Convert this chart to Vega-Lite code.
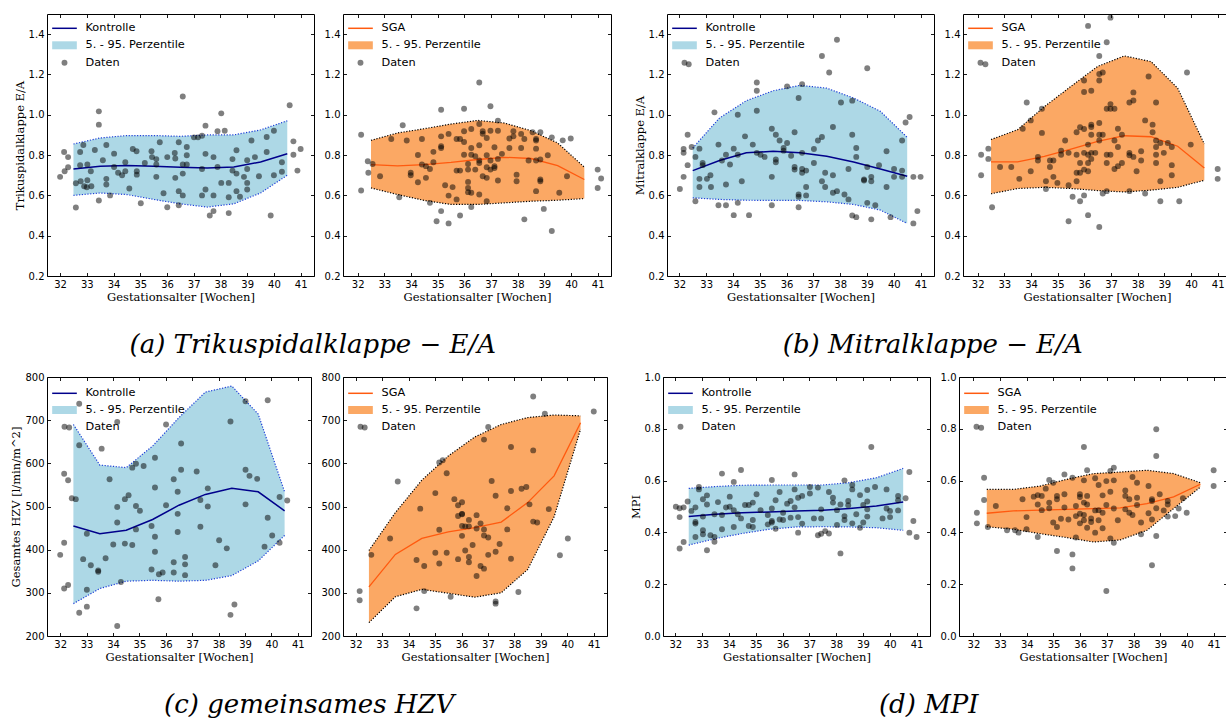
{
"$schema": "https://vega.github.io/schema/vega-lite/v6.json",
"padding": {"left": 10, "top": 13, "right": 0, "bottom": 0},
"background": "white",
"datasets": {
"b1": [{"x":32.5,"lo":0.600,"mid":0.731,"hi":0.855},{"x":33.5,"lo":0.612,"mid":0.745,"hi":0.885},{"x":34.5,"lo":0.604,"mid":0.748,"hi":0.897},{"x":35.5,"lo":0.580,"mid":0.745,"hi":0.897},{"x":36.5,"lo":0.558,"mid":0.740,"hi":0.893},{"x":37.5,"lo":0.542,"mid":0.736,"hi":0.900},{"x":38.5,"lo":0.558,"mid":0.741,"hi":0.900},{"x":39.5,"lo":0.612,"mid":0.766,"hi":0.925},{"x":40.5,"lo":0.700,"mid":0.807,"hi":0.970}],
"b2": [{"x":32.5,"lo":0.637,"mid":0.753,"hi":0.873},{"x":33.5,"lo":0.604,"mid":0.746,"hi":0.910},{"x":34.5,"lo":0.575,"mid":0.753,"hi":0.931},{"x":35.5,"lo":0.555,"mid":0.764,"hi":0.954},{"x":36.5,"lo":0.555,"mid":0.778,"hi":0.972},{"x":37.5,"lo":0.563,"mid":0.789,"hi":0.959},{"x":38.5,"lo":0.571,"mid":0.783,"hi":0.921},{"x":39.5,"lo":0.576,"mid":0.748,"hi":0.860},{"x":40.5,"lo":0.584,"mid":0.679,"hi":0.740}],
"b3": [{"x":32.5,"lo":0.588,"mid":0.723,"hi":0.835},{"x":33.5,"lo":0.580,"mid":0.773,"hi":0.984},{"x":34.5,"lo":0.576,"mid":0.811,"hi":1.070},{"x":35.5,"lo":0.575,"mid":0.819,"hi":1.119},{"x":36.5,"lo":0.575,"mid":0.811,"hi":1.146},{"x":37.5,"lo":0.568,"mid":0.794,"hi":1.132},{"x":38.5,"lo":0.555,"mid":0.766,"hi":1.083},{"x":39.5,"lo":0.527,"mid":0.731,"hi":1.017},{"x":40.5,"lo":0.461,"mid":0.695,"hi":0.888}],
"b4": [{"x":32.5,"lo":0.608,"mid":0.766,"hi":0.877},{"x":33.5,"lo":0.634,"mid":0.766,"hi":0.926},{"x":34.5,"lo":0.640,"mid":0.794,"hi":1.040},{"x":35.5,"lo":0.634,"mid":0.830,"hi":1.141},{"x":36.5,"lo":0.624,"mid":0.868,"hi":1.240},{"x":37.5,"lo":0.617,"mid":0.896,"hi":1.292},{"x":38.5,"lo":0.626,"mid":0.891,"hi":1.264},{"x":39.5,"lo":0.640,"mid":0.844,"hi":1.132},{"x":40.5,"lo":0.675,"mid":0.736,"hi":0.855}],
"b5": [{"x":32.5,"lo":275,"mid":455,"hi":690},{"x":33.5,"lo":310,"mid":437,"hi":596},{"x":34.5,"lo":327,"mid":445,"hi":590},{"x":35.5,"lo":329,"mid":470,"hi":640},{"x":36.5,"lo":327,"mid":503,"hi":706},{"x":37.5,"lo":329,"mid":528,"hi":765},{"x":38.5,"lo":340,"mid":542,"hi":779},{"x":39.5,"lo":374,"mid":534,"hi":714},{"x":40.5,"lo":433,"mid":490,"hi":534}],
"b6": [{"x":32.5,"lo":231,"mid":314,"hi":398},{"x":33.5,"lo":291,"mid":389,"hi":486},{"x":34.5,"lo":308,"mid":426,"hi":561},{"x":35.5,"lo":299,"mid":441,"hi":617},{"x":36.5,"lo":290,"mid":451,"hi":661},{"x":37.5,"lo":300,"mid":464,"hi":690},{"x":38.5,"lo":354,"mid":509,"hi":706},{"x":39.5,"lo":476,"mid":571,"hi":712},{"x":40.5,"lo":679,"mid":694,"hi":710}],
"b7": [{"x":32.5,"lo":0.351,"mid":0.461,"hi":0.570},{"x":33.5,"lo":0.376,"mid":0.470,"hi":0.577},{"x":34.5,"lo":0.396,"mid":0.476,"hi":0.582},{"x":35.5,"lo":0.412,"mid":0.479,"hi":0.583},{"x":36.5,"lo":0.421,"mid":0.483,"hi":0.583},{"x":37.5,"lo":0.422,"mid":0.486,"hi":0.583},{"x":38.5,"lo":0.421,"mid":0.492,"hi":0.592},{"x":39.5,"lo":0.418,"mid":0.502,"hi":0.611},{"x":40.5,"lo":0.408,"mid":0.517,"hi":0.647}],
"b8": [{"x":32.5,"lo":0.422,"mid":0.474,"hi":0.566},{"x":33.5,"lo":0.412,"mid":0.483,"hi":0.566},{"x":34.5,"lo":0.395,"mid":0.486,"hi":0.579},{"x":35.5,"lo":0.380,"mid":0.489,"hi":0.605},{"x":36.5,"lo":0.363,"mid":0.492,"hi":0.627},{"x":37.5,"lo":0.371,"mid":0.495,"hi":0.633},{"x":38.5,"lo":0.408,"mid":0.511,"hi":0.640},{"x":39.5,"lo":0.492,"mid":0.537,"hi":0.627},{"x":40.5,"lo":0.575,"mid":0.586,"hi":0.592}],
"p1": [{"x":32.0,"y":0.692},{"x":32.15,"y":0.815},{"x":32.17,"y":0.72},{"x":32.3,"y":0.79},{"x":32.3,"y":0.74},{"x":32.59,"y":0.54},{"x":32.59,"y":0.66},{"x":32.75,"y":0.815},{"x":32.75,"y":0.75},{"x":32.77,"y":0.67},{"x":32.87,"y":0.85},{"x":32.9,"y":0.645},{"x":33.02,"y":0.753},{"x":33.02,"y":0.675},{"x":33.0,"y":0.64},{"x":33.15,"y":0.72},{"x":33.17,"y":0.645},{"x":33.3,"y":0.825},{"x":33.45,"y":1.017},{"x":33.45,"y":0.951},{"x":33.45,"y":0.575},{"x":33.6,"y":0.774},{"x":33.73,"y":0.85},{"x":33.73,"y":0.682},{"x":33.73,"y":0.654},{"x":33.87,"y":0.6},{"x":34.02,"y":0.807},{"x":34.02,"y":0.741},{"x":34.17,"y":0.712},{"x":34.32,"y":0.7},{"x":34.44,"y":0.764},{"x":34.44,"y":0.72},{"x":34.59,"y":0.634},{"x":34.72,"y":0.83},{"x":34.86,"y":0.819},{"x":34.87,"y":0.72},{"x":34.87,"y":0.703},{"x":35.02,"y":0.561},{"x":35.17,"y":0.761},{"x":35.42,"y":0.819},{"x":35.44,"y":0.79},{"x":35.6,"y":0.78},{"x":35.6,"y":0.753},{"x":35.6,"y":0.692},{"x":35.73,"y":0.864},{"x":35.87,"y":0.611},{"x":36.01,"y":0.79},{"x":36.01,"y":0.541},{"x":36.29,"y":0.81},{"x":36.31,"y":0.783},{"x":36.31,"y":0.687},{"x":36.44,"y":0.864},{"x":36.44,"y":0.621},{"x":36.44,"y":0.551},{"x":36.59,"y":1.091},{"x":36.59,"y":0.753},{"x":36.59,"y":0.708},{"x":36.59,"y":0.6},{"x":36.74,"y":0.84},{"x":36.74,"y":0.799},{"x":36.74,"y":0.753},{"x":37.01,"y":0.888},{"x":37.16,"y":0.888},{"x":37.31,"y":0.896},{"x":37.31,"y":0.731},{"x":37.31,"y":0.6},{"x":37.44,"y":0.946},{"x":37.44,"y":0.806},{"x":37.44,"y":0.629},{"x":37.6,"y":0.5},{"x":37.74,"y":0.79},{"x":37.74,"y":0.6},{"x":37.74,"y":0.522},{"x":37.89,"y":0.918},{"x":37.89,"y":0.741},{"x":38.03,"y":1.007},{"x":38.03,"y":0.662},{"x":38.16,"y":0.921},{"x":38.31,"y":0.662},{"x":38.31,"y":0.591},{"x":38.31,"y":0.512},{"x":38.45,"y":0.78},{"x":38.45,"y":0.723},{"x":38.6,"y":0.824},{"x":38.6,"y":0.708},{"x":38.6,"y":0.621},{"x":38.73,"y":0.593},{"x":38.88,"y":0.692},{"x":39.0,"y":0.774},{"x":39.0,"y":0.731},{"x":39.0,"y":0.662},{"x":39.0,"y":0.629},{"x":39.16,"y":0.872},{"x":39.29,"y":0.79},{"x":39.44,"y":0.695},{"x":39.73,"y":0.89},{"x":39.73,"y":0.815},{"x":39.88,"y":0.5},{"x":40.0,"y":0.921},{"x":40.0,"y":0.7},{"x":40.3,"y":0.764},{"x":40.3,"y":0.717},{"x":40.59,"y":1.047},{"x":40.73,"y":0.868},{"x":40.73,"y":0.802},{"x":40.88,"y":0.723},{"x":41.0,"y":0.83}],
"p2": [{"x":32.13,"y":0.901},{"x":32.13,"y":0.624},{"x":32.38,"y":0.769},{"x":32.4,"y":0.712},{"x":32.56,"y":0.756},{"x":32.84,"y":0.695},{"x":33.26,"y":0.88},{"x":33.56,"y":0.591},{"x":33.69,"y":0.948},{"x":33.84,"y":0.872},{"x":33.99,"y":0.712},{"x":33.99,"y":0.7},{"x":34.26,"y":0.8},{"x":34.26,"y":0.665},{"x":34.41,"y":0.88},{"x":34.41,"y":0.753},{"x":34.56,"y":0.745},{"x":34.56,"y":0.687},{"x":34.71,"y":0.563},{"x":34.71,"y":0.731},{"x":34.84,"y":0.816},{"x":34.84,"y":0.764},{"x":35.13,"y":1.025},{"x":35.13,"y":0.893},{"x":35.13,"y":0.844},{"x":35.13,"y":0.835},{"x":35.13,"y":0.522},{"x":35.28,"y":0.65},{"x":35.41,"y":0.905},{"x":35.41,"y":0.599},{"x":34.96,"y":0.472},{"x":35.41,"y":0.461},{"x":35.56,"y":0.641},{"x":35.71,"y":0.88},{"x":35.71,"y":0.723},{"x":35.71,"y":0.58},{"x":35.84,"y":0.5},{"x":35.84,"y":0.723},{"x":35.84,"y":0.88},{"x":35.99,"y":1.03},{"x":35.99,"y":0.918},{"x":35.99,"y":0.865},{"x":35.99,"y":0.802},{"x":36.14,"y":0.756},{"x":36.14,"y":0.728},{"x":36.14,"y":0.667},{"x":36.14,"y":0.637},{"x":36.14,"y":0.616},{"x":36.26,"y":0.929},{"x":36.26,"y":0.835},{"x":36.26,"y":0.802},{"x":36.26,"y":0.613},{"x":36.26,"y":0.542},{"x":36.41,"y":0.728},{"x":36.41,"y":0.794},{"x":36.56,"y":1.16},{"x":36.56,"y":0.954},{"x":36.56,"y":0.849},{"x":36.56,"y":0.773},{"x":36.56,"y":0.761},{"x":36.56,"y":0.604},{"x":36.69,"y":0.918},{"x":36.69,"y":0.906},{"x":36.69,"y":0.695},{"x":36.84,"y":0.885},{"x":36.84,"y":0.799},{"x":36.84,"y":0.74},{"x":36.84,"y":0.687},{"x":36.84,"y":0.571},{"x":36.98,"y":1.042},{"x":36.98,"y":0.921},{"x":36.98,"y":0.773},{"x":36.98,"y":0.728},{"x":37.13,"y":0.839},{"x":37.13,"y":0.745},{"x":37.13,"y":0.736},{"x":37.26,"y":0.971},{"x":37.26,"y":0.921},{"x":37.26,"y":0.781},{"x":37.26,"y":0.674},{"x":37.41,"y":0.806},{"x":37.69,"y":0.882},{"x":37.69,"y":0.835},{"x":37.84,"y":0.918},{"x":37.84,"y":0.893},{"x":37.96,"y":0.703},{"x":37.96,"y":0.67},{"x":38.13,"y":0.905},{"x":38.13,"y":0.835},{"x":38.25,"y":0.88},{"x":38.25,"y":0.481},{"x":38.41,"y":0.773},{"x":38.56,"y":0.913},{"x":38.69,"y":0.88},{"x":38.69,"y":0.872},{"x":38.69,"y":0.832},{"x":38.69,"y":0.773},{"x":38.69,"y":0.621},{"x":38.85,"y":0.913},{"x":38.85,"y":0.778},{"x":38.85,"y":0.679},{"x":38.85,"y":0.67},{"x":38.98,"y":0.533},{"x":39.13,"y":0.799},{"x":39.28,"y":0.888},{"x":39.28,"y":0.423},{"x":39.56,"y":0.613},{"x":39.69,"y":0.873},{"x":39.85,"y":0.695},{"x":39.99,"y":0.882},{"x":41.0,"y":0.728},{"x":41.0,"y":0.637},{"x":41.13,"y":0.684}],
"p3": [{"x":32.02,"y":0.632},{"x":32.16,"y":0.83},{"x":32.16,"y":0.811},{"x":32.16,"y":0.692},{"x":32.31,"y":0.901},{"x":32.31,"y":0.75},{"x":32.35,"y":1.251},{"x":32.46,"y":0.84},{"x":32.6,"y":0.571},{"x":32.6,"y":0.791},{"x":32.75,"y":0.832},{"x":32.75,"y":0.682},{"x":32.75,"y":0.642},{"x":32.87,"y":0.75},{"x":32.87,"y":0.761},{"x":33.03,"y":0.682},{"x":33.16,"y":0.7},{"x":33.18,"y":0.642},{"x":33.31,"y":1.012},{"x":33.46,"y":0.852},{"x":33.46,"y":0.551},{"x":33.59,"y":0.773},{"x":33.74,"y":0.802},{"x":33.74,"y":0.654},{"x":33.74,"y":0.551},{"x":33.89,"y":0.753},{"x":34.03,"y":0.832},{"x":34.03,"y":0.502},{"x":34.18,"y":1.0},{"x":34.18,"y":0.802},{"x":34.18,"y":0.563},{"x":34.33,"y":0.67},{"x":34.45,"y":0.893},{"x":34.6,"y":0.502},{"x":34.74,"y":0.852},{"x":34.89,"y":1.16},{"x":34.89,"y":1.119},{"x":34.89,"y":1.02},{"x":34.89,"y":0.811},{"x":35.03,"y":0.802},{"x":35.18,"y":0.791},{"x":35.45,"y":0.931},{"x":35.45,"y":0.692},{"x":35.45,"y":0.551},{"x":35.6,"y":0.901},{"x":35.6,"y":0.778},{"x":35.6,"y":0.764},{"x":35.74,"y":0.872},{"x":35.89,"y":0.835},{"x":35.89,"y":0.822},{"x":36.02,"y":1.141},{"x":36.02,"y":0.86},{"x":36.17,"y":0.797},{"x":36.3,"y":0.913},{"x":36.3,"y":0.741},{"x":36.3,"y":0.728},{"x":36.45,"y":1.083},{"x":36.45,"y":0.604},{"x":36.45,"y":0.593},{"x":36.45,"y":0.541},{"x":36.58,"y":1.152},{"x":36.58,"y":0.811},{"x":36.58,"y":0.731},{"x":36.58,"y":0.712},{"x":36.73,"y":0.723},{"x":36.73,"y":0.642},{"x":36.73,"y":0.6},{"x":37.02,"y":0.83},{"x":37.02,"y":0.761},{"x":37.17,"y":0.872},{"x":37.32,"y":1.292},{"x":37.32,"y":0.89},{"x":37.32,"y":0.67},{"x":37.44,"y":0.712},{"x":37.44,"y":0.642},{"x":37.59,"y":1.21},{"x":37.73,"y":0.939},{"x":37.73,"y":0.7},{"x":37.73,"y":0.613},{"x":37.88,"y":1.372},{"x":37.88,"y":0.621},{"x":38.03,"y":1.061},{"x":38.16,"y":0.604},{"x":38.31,"y":0.731},{"x":38.31,"y":0.58},{"x":38.45,"y":1.07},{"x":38.45,"y":0.901},{"x":38.45,"y":0.5},{"x":38.6,"y":0.835},{"x":38.6,"y":0.791},{"x":38.6,"y":0.492},{"x":38.89,"y":0.679},{"x":38.89,"y":0.674},{"x":39.01,"y":1.231},{"x":39.01,"y":0.741},{"x":39.01,"y":0.563},{"x":39.16,"y":0.692},{"x":39.16,"y":0.67},{"x":39.16,"y":0.481},{"x":39.31,"y":0.551},{"x":39.45,"y":0.75},{"x":39.73,"y":0.819},{"x":39.73,"y":0.642},{"x":39.88,"y":0.492},{"x":40.01,"y":0.731},{"x":40.01,"y":0.692},{"x":40.31,"y":0.872},{"x":40.31,"y":0.723},{"x":40.31,"y":0.692},{"x":40.44,"y":0.962},{"x":40.59,"y":0.989},{"x":40.73,"y":0.692},{"x":40.73,"y":0.461},{"x":40.88,"y":0.522},{"x":41.0,"y":0.692}],
"p4": [{"x":32.13,"y":0.802},{"x":32.13,"y":0.7},{"x":32.4,"y":0.832},{"x":32.4,"y":0.781},{"x":32.29,"y":1.251},{"x":32.54,"y":0.541},{"x":32.84,"y":0.741},{"x":33.26,"y":0.741},{"x":33.56,"y":0.682},{"x":33.69,"y":0.931},{"x":33.84,"y":1.061},{"x":33.99,"y":0.972},{"x":33.99,"y":0.72},{"x":34.26,"y":0.791},{"x":34.26,"y":0.773},{"x":34.41,"y":1.03},{"x":34.41,"y":0.91},{"x":34.56,"y":0.67},{"x":34.56,"y":0.632},{"x":34.71,"y":0.773},{"x":34.71,"y":0.741},{"x":34.84,"y":0.773},{"x":34.84,"y":0.692},{"x":34.99,"y":0.662},{"x":35.13,"y":0.822},{"x":35.13,"y":0.802},{"x":35.28,"y":0.872},{"x":35.41,"y":0.811},{"x":35.41,"y":0.65},{"x":35.41,"y":0.472},{"x":35.56,"y":0.593},{"x":35.71,"y":0.913},{"x":35.71,"y":0.802},{"x":35.71,"y":0.712},{"x":35.71,"y":0.67},{"x":35.84,"y":0.938},{"x":35.84,"y":0.761},{"x":35.84,"y":0.712},{"x":35.84,"y":0.571},{"x":35.99,"y":1.17},{"x":35.99,"y":1.113},{"x":35.99,"y":0.929},{"x":35.99,"y":0.811},{"x":35.99,"y":0.728},{"x":35.99,"y":0.6},{"x":36.14,"y":1.441},{"x":36.14,"y":0.852},{"x":36.14,"y":0.802},{"x":36.14,"y":0.761},{"x":36.14,"y":0.72},{"x":36.14,"y":0.502},{"x":36.26,"y":1.119},{"x":36.26,"y":0.951},{"x":36.26,"y":0.939},{"x":36.26,"y":0.901},{"x":36.26,"y":0.811},{"x":36.26,"y":0.781},{"x":36.41,"y":0.811},{"x":36.56,"y":1.292},{"x":36.56,"y":1.202},{"x":36.56,"y":1.17},{"x":36.56,"y":0.959},{"x":36.56,"y":0.901},{"x":36.56,"y":0.872},{"x":36.56,"y":0.443},{"x":36.69,"y":1.21},{"x":36.69,"y":0.901},{"x":36.69,"y":0.609},{"x":36.84,"y":1.36},{"x":36.84,"y":1.03},{"x":36.84,"y":0.802},{"x":36.84,"y":0.761},{"x":36.84,"y":0.621},{"x":36.98,"y":1.482},{"x":36.98,"y":1.053},{"x":36.98,"y":1.03},{"x":36.98,"y":0.802},{"x":37.13,"y":1.03},{"x":37.13,"y":0.872},{"x":37.13,"y":0.731},{"x":37.26,"y":0.931},{"x":37.26,"y":0.84},{"x":37.26,"y":0.745},{"x":37.41,"y":0.901},{"x":37.41,"y":0.761},{"x":37.69,"y":1.061},{"x":37.69,"y":0.811},{"x":37.69,"y":0.799},{"x":37.69,"y":0.621},{"x":37.84,"y":1.111},{"x":37.84,"y":1.071},{"x":37.84,"y":0.791},{"x":37.96,"y":0.72},{"x":38.13,"y":0.819},{"x":38.13,"y":0.773},{"x":38.28,"y":0.972},{"x":38.28,"y":0.609},{"x":38.41,"y":1.19},{"x":38.56,"y":0.951},{"x":38.56,"y":0.913},{"x":38.69,"y":1.061},{"x":38.69,"y":0.872},{"x":38.69,"y":0.84},{"x":38.69,"y":0.802},{"x":38.69,"y":0.761},{"x":38.85,"y":0.86},{"x":38.85,"y":0.67},{"x":38.85,"y":0.571},{"x":38.98,"y":0.811},{"x":39.13,"y":0.86},{"x":39.28,"y":0.84},{"x":39.28,"y":0.75},{"x":39.28,"y":0.7},{"x":39.56,"y":0.571},{"x":39.85,"y":1.21},{"x":39.99,"y":0.852},{"x":41.0,"y":0.731},{"x":41.0,"y":0.682}],
"p5": [{"x":32.0,"y":388},{"x":32.15,"y":576},{"x":32.15,"y":416},{"x":32.15,"y":310},{"x":32.3,"y":561},{"x":32.3,"y":318},{"x":32.34,"y":683},{"x":32.44,"y":519},{"x":32.59,"y":517},{"x":32.72,"y":738},{"x":32.72,"y":642},{"x":32.72,"y":254},{"x":32.87,"y":378},{"x":33.01,"y":437},{"x":33.01,"y":307},{"x":33.01,"y":268},{"x":33.16,"y":364},{"x":33.44,"y":352},{"x":33.44,"y":349},{"x":33.57,"y":634},{"x":33.72,"y":380},{"x":33.87,"y":563},{"x":34.01,"y":412},{"x":34.16,"y":696},{"x":34.16,"y":499},{"x":34.16,"y":463},{"x":34.16,"y":223},{"x":34.3,"y":325},{"x":34.45,"y":517},{"x":34.45,"y":414},{"x":34.59,"y":526},{"x":34.73,"y":590},{"x":34.73,"y":411},{"x":34.87,"y":599},{"x":34.87,"y":501},{"x":34.87,"y":447},{"x":35.02,"y":490},{"x":35.16,"y":594},{"x":35.46,"y":455},{"x":35.46,"y":354},{"x":35.59,"y":613},{"x":35.59,"y":544},{"x":35.59,"y":430},{"x":35.59,"y":395},{"x":35.72,"y":285},{"x":35.74,"y":343},{"x":35.88,"y":347},{"x":36.01,"y":690},{"x":36.01,"y":503},{"x":36.3,"y":563},{"x":36.3,"y":371},{"x":36.3,"y":347},{"x":36.45,"y":534},{"x":36.45,"y":483},{"x":36.45,"y":441},{"x":36.58,"y":646},{"x":36.58,"y":585},{"x":36.73,"y":383},{"x":36.73,"y":366},{"x":36.73,"y":341},{"x":37.17,"y":581},{"x":37.31,"y":515},{"x":37.31,"y":453},{"x":37.59,"y":542},{"x":37.59,"y":500},{"x":37.88,"y":364},{"x":38.02,"y":422},{"x":38.31,"y":403},{"x":38.45,"y":697},{"x":38.45,"y":249},{"x":38.6,"y":273},{"x":39.02,"y":744},{"x":39.02,"y":585},{"x":39.02,"y":505},{"x":39.17,"y":571},{"x":39.46,"y":564},{"x":39.74,"y":407},{"x":39.86,"y":474},{"x":39.86,"y":746},{"x":40.03,"y":433},{"x":40.31,"y":522},{"x":40.31,"y":416},{"x":40.6,"y":514}],
"p6": [{"x":32.15,"y":304},{"x":32.15,"y":283},{"x":32.34,"y":683},{"x":32.59,"y":388},{"x":33.3,"y":426},{"x":33.59,"y":558},{"x":34.3,"y":376},{"x":34.3,"y":264},{"x":34.44,"y":495},{"x":34.59,"y":362},{"x":34.59,"y":304},{"x":35.01,"y":531},{"x":35.01,"y":393},{"x":35.16,"y":602},{"x":35.16,"y":446},{"x":35.16,"y":368},{"x":35.29,"y":607},{"x":35.44,"y":577},{"x":35.44,"y":393},{"x":35.59,"y":291},{"x":35.73,"y":517},{"x":35.87,"y":503},{"x":35.87,"y":478},{"x":35.87,"y":378},{"x":36.02,"y":510},{"x":36.02,"y":483},{"x":36.02,"y":482},{"x":36.02,"y":455},{"x":36.02,"y":432},{"x":36.14,"y":398},{"x":36.14,"y":454},{"x":36.28,"y":469},{"x":36.28,"y":454},{"x":36.28,"y":383},{"x":36.28,"y":371},{"x":36.42,"y":411},{"x":36.57,"y":480},{"x":36.57,"y":449},{"x":36.57,"y":339},{"x":36.72,"y":461},{"x":36.72,"y":362},{"x":36.85,"y":655},{"x":36.85,"y":447},{"x":36.85,"y":433},{"x":36.85,"y":356},{"x":37.01,"y":684},{"x":37.01,"y":428},{"x":37.01,"y":388},{"x":37.14,"y":559},{"x":37.29,"y":525},{"x":37.29,"y":395},{"x":37.29,"y":280},{"x":37.29,"y":275},{"x":37.44,"y":413},{"x":37.73,"y":496},{"x":37.73,"y":447},{"x":37.87,"y":638},{"x":37.87,"y":536},{"x":37.87,"y":379},{"x":38.15,"y":302},{"x":38.27,"y":541},{"x":38.45,"y":545},{"x":38.57,"y":505},{"x":38.71,"y":755},{"x":38.71,"y":630},{"x":38.71,"y":465},{"x":38.86,"y":463},{"x":39.15,"y":715},{"x":39.3,"y":494},{"x":39.72,"y":387},{"x":40.02,"y":426},{"x":41.0,"y":720}],
"p7": [{"x":32.02,"y":0.499},{"x":32.16,"y":0.493},{"x":32.16,"y":0.459},{"x":32.16,"y":0.338},{"x":32.31,"y":0.496},{"x":32.31,"y":0.363},{"x":32.46,"y":0.519},{"x":32.6,"y":0.483},{"x":32.75,"y":0.496},{"x":32.75,"y":0.44},{"x":32.75,"y":0.434},{"x":32.75,"y":0.382},{"x":32.88,"y":0.575},{"x":32.88,"y":0.566},{"x":33.03,"y":0.528},{"x":33.03,"y":0.461},{"x":33.03,"y":0.408},{"x":33.03,"y":0.393},{"x":33.18,"y":0.543},{"x":33.18,"y":0.508},{"x":33.18,"y":0.331},{"x":33.31,"y":0.389},{"x":33.46,"y":0.47},{"x":33.46,"y":0.382},{"x":33.46,"y":0.364},{"x":33.59,"y":0.517},{"x":33.74,"y":0.627},{"x":33.74,"y":0.467},{"x":33.74,"y":0.412},{"x":33.89,"y":0.496},{"x":34.03,"y":0.538},{"x":34.03,"y":0.499},{"x":34.18,"y":0.595},{"x":34.18,"y":0.486},{"x":34.18,"y":0.421},{"x":34.33,"y":0.47},{"x":34.45,"y":0.641},{"x":34.45,"y":0.454},{"x":34.6,"y":0.506},{"x":34.74,"y":0.506},{"x":34.74,"y":0.425},{"x":34.89,"y":0.515},{"x":34.89,"y":0.448},{"x":34.89,"y":0.421},{"x":35.03,"y":0.547},{"x":35.18,"y":0.486},{"x":35.45,"y":0.467},{"x":35.45,"y":0.431},{"x":35.6,"y":0.602},{"x":35.6,"y":0.492},{"x":35.6,"y":0.444},{"x":35.6,"y":0.438},{"x":35.74,"y":0.524},{"x":35.74,"y":0.414},{"x":35.89,"y":0.556},{"x":35.89,"y":0.45},{"x":36.02,"y":0.476},{"x":36.02,"y":0.448},{"x":36.17,"y":0.511},{"x":36.3,"y":0.521},{"x":36.3,"y":0.457},{"x":36.45,"y":0.624},{"x":36.45,"y":0.566},{"x":36.45,"y":0.496},{"x":36.58,"y":0.534},{"x":36.58,"y":0.459},{"x":36.58,"y":0.399},{"x":36.73,"y":0.541},{"x":36.73,"y":0.434},{"x":37.02,"y":0.575},{"x":37.02,"y":0.55},{"x":37.17,"y":0.454},{"x":37.32,"y":0.573},{"x":37.32,"y":0.389},{"x":37.44,"y":0.489},{"x":37.44,"y":0.454},{"x":37.44,"y":0.395},{"x":37.59,"y":0.405},{"x":37.73,"y":0.556},{"x":37.73,"y":0.396},{"x":37.88,"y":0.534},{"x":37.88,"y":0.515},{"x":38.03,"y":0.486},{"x":38.03,"y":0.429},{"x":38.16,"y":0.319},{"x":38.16,"y":0.508},{"x":38.31,"y":0.601},{"x":38.31,"y":0.463},{"x":38.31,"y":0.448},{"x":38.45,"y":0.521},{"x":38.45,"y":0.505},{"x":38.6,"y":0.583},{"x":38.6,"y":0.566},{"x":38.6,"y":0.435},{"x":38.75,"y":0.47},{"x":38.89,"y":0.544},{"x":38.89,"y":0.418},{"x":39.01,"y":0.506},{"x":39.01,"y":0.438},{"x":39.16,"y":0.564},{"x":39.16,"y":0.519},{"x":39.16,"y":0.489},{"x":39.16,"y":0.461},{"x":39.31,"y":0.73},{"x":39.45,"y":0.575},{"x":39.73,"y":0.454},{"x":39.88,"y":0.566},{"x":39.88,"y":0.492},{"x":40.01,"y":0.483},{"x":40.01,"y":0.459},{"x":40.31,"y":0.541},{"x":40.31,"y":0.524},{"x":40.31,"y":0.485},{"x":40.59,"y":0.532},{"x":40.73,"y":0.633},{"x":40.73,"y":0.399},{"x":40.88,"y":0.444},{"x":41.0,"y":0.382}],
"p8": [{"x":32.13,"y":0.476},{"x":32.13,"y":0.435},{"x":32.29,"y":0.804},{"x":32.4,"y":0.611},{"x":32.4,"y":0.525},{"x":32.54,"y":0.421},{"x":32.84,"y":0.502},{"x":33.26,"y":0.408},{"x":33.56,"y":0.408},{"x":33.69,"y":0.399},{"x":33.84,"y":0.528},{"x":33.99,"y":0.459},{"x":33.99,"y":0.412},{"x":34.26,"y":0.538},{"x":34.41,"y":0.544},{"x":34.41,"y":0.508},{"x":34.41,"y":0.382},{"x":34.56,"y":0.541},{"x":34.56,"y":0.486},{"x":34.71,"y":0.569},{"x":34.84,"y":0.602},{"x":34.84,"y":0.515},{"x":34.84,"y":0.493},{"x":34.99,"y":0.592},{"x":34.99,"y":0.438},{"x":35.13,"y":0.541},{"x":35.13,"y":0.528},{"x":35.13,"y":0.421},{"x":35.13,"y":0.328},{"x":35.28,"y":0.453},{"x":35.41,"y":0.624},{"x":35.41,"y":0.547},{"x":35.41,"y":0.496},{"x":35.56,"y":0.45},{"x":35.71,"y":0.611},{"x":35.71,"y":0.315},{"x":35.71,"y":0.261},{"x":35.84,"y":0.502},{"x":35.84,"y":0.463},{"x":35.84,"y":0.38},{"x":35.99,"y":0.547},{"x":35.99,"y":0.537},{"x":35.99,"y":0.472},{"x":35.99,"y":0.435},{"x":36.14,"y":0.73},{"x":36.14,"y":0.601},{"x":36.14,"y":0.515},{"x":36.14,"y":0.467},{"x":36.14,"y":0.447},{"x":36.26,"y":0.64},{"x":36.26,"y":0.541},{"x":36.26,"y":0.508},{"x":36.26,"y":0.418},{"x":36.41,"y":0.44},{"x":36.41,"y":0.454},{"x":36.56,"y":0.609},{"x":36.56,"y":0.485},{"x":36.56,"y":0.399},{"x":36.69,"y":0.583},{"x":36.69,"y":0.486},{"x":36.69,"y":0.447},{"x":36.84,"y":0.543},{"x":36.84,"y":0.476},{"x":36.84,"y":0.416},{"x":36.98,"y":0.174},{"x":36.98,"y":0.598},{"x":36.98,"y":0.506},{"x":37.13,"y":0.637},{"x":37.13,"y":0.557},{"x":37.13,"y":0.377},{"x":37.26,"y":0.65},{"x":37.26,"y":0.601},{"x":37.26,"y":0.492},{"x":37.26,"y":0.36},{"x":37.41,"y":0.447},{"x":37.69,"y":0.562},{"x":37.69,"y":0.489},{"x":37.69,"y":0.541},{"x":37.84,"y":0.528},{"x":37.84,"y":0.476},{"x":37.96,"y":0.614},{"x":37.96,"y":0.467},{"x":38.13,"y":0.592},{"x":38.13,"y":0.534},{"x":38.13,"y":0.506},{"x":38.28,"y":0.438},{"x":38.28,"y":0.393},{"x":38.56,"y":0.579},{"x":38.56,"y":0.474},{"x":38.69,"y":0.528},{"x":38.69,"y":0.521},{"x":38.69,"y":0.45},{"x":38.69,"y":0.273},{"x":38.85,"y":0.798},{"x":38.85,"y":0.695},{"x":38.85,"y":0.493},{"x":38.85,"y":0.386},{"x":38.98,"y":0.547},{"x":39.13,"y":0.485},{"x":39.28,"y":0.521},{"x":39.28,"y":0.508},{"x":39.28,"y":0.461},{"x":39.56,"y":0.463},{"x":39.69,"y":0.492},{"x":39.85,"y":0.532},{"x":39.99,"y":0.476},{"x":41.0,"y":0.64},{"x":41.0,"y":0.579}]
},
"vconcat": [
{
"hconcat": [
{
"hconcat": [
{
"width": 267, "height": 262,
"layer": [
{"data": {"name": "b1"}, "mark": {"type": "area", "opacity": 1},
 "encoding": {
  "x": {"field": "x", "type": "quantitative", "scale": {"domain": [31.51, 41.5], "nice": false, "zero": false}, "axis": {"values": [32,33,34,35,36,37,38,39,40,41], "title": "Gestationsalter [Wochen]"}},
  "y": {"field": "lo", "type": "quantitative", "scale": {"domain": [0.2, 1.5], "nice": false, "zero": false}, "axis": {"values": [0.2,0.4,0.6,0.8,1.0,1.2,1.4], "format": ".1f", "title": "Trikuspidalklappe E/A"}},
  "y2": {"field": "hi"},
  "fill": {"datum": "5. - 95. Perzentile", "type": "nominal", "scale": {"domain": ["5. - 95. Perzentile"], "range": ["#ADD8E6"]},
   "legend": {"orient": "none", "legendX": 9, "legendY": 22.8, "title": null, "padding": 0, "symbolType": "M-1.45,-0.47H1.45V0.47H-1.45Z", "symbolSize": 289, "symbolStrokeWidth": 0, "symbolFillColor": "#ADD8E6", "symbolOpacity": 1, "labelOffset": 12.5}}
 }},
{"data": {"name": "b1"}, "mark": {"type": "line", "color": "#1f3fd8", "strokeWidth": 1.2, "strokeDash": [1.2, 1.6]},
 "encoding": {"x": {"field": "x", "type": "quantitative", "scale": {"domain": [31.51, 41.5], "nice": false, "zero": false}, "axis": null}, "y": {"field": "lo", "type": "quantitative", "scale": {"domain": [0.2, 1.5], "nice": false, "zero": false}, "axis": null}}},
{"data": {"name": "b1"}, "mark": {"type": "line", "color": "#1f3fd8", "strokeWidth": 1.2, "strokeDash": [1.2, 1.6]},
 "encoding": {"x": {"field": "x", "type": "quantitative", "scale": {"domain": [31.51, 41.5], "nice": false, "zero": false}, "axis": null}, "y": {"field": "hi", "type": "quantitative", "scale": {"domain": [0.2, 1.5], "nice": false, "zero": false}, "axis": null}}},
{"data": {"name": "b1"}, "mark": {"type": "line", "strokeWidth": 1.5},
 "encoding": {"x": {"field": "x", "type": "quantitative", "scale": {"domain": [31.51, 41.5], "nice": false, "zero": false}, "axis": null}, "y": {"field": "mid", "type": "quantitative", "scale": {"domain": [0.2, 1.5], "nice": false, "zero": false}, "axis": null},
  "stroke": {"datum": "Kontrolle", "type": "nominal", "scale": {"domain": ["Kontrolle"], "range": ["#00008B"]},
   "legend": {"orient": "none", "legendX": 8, "legendY": 4.8, "title": null, "padding": 0, "symbolType": "M-1.45,0H1.45", "symbolSize": 289, "symbolStrokeWidth": 1.5, "symbolStrokeColor": "#00008B", "labelOffset": 11.5}}}},
{"data": {"name": "p1"}, "mark": {"type": "point", "filled": true, "size": 35, "opacity": 0.5, "color": "black", "strokeWidth": 0},
 "encoding": {"x": {"field": "x", "type": "quantitative", "scale": {"domain": [31.51, 41.5], "nice": false, "zero": false}, "axis": null}, "y": {"field": "y", "type": "quantitative", "scale": {"domain": [0.2, 1.5], "nice": false, "zero": false}, "axis": null},
  "shape": {"datum": "Daten", "type": "nominal", "scale": {"domain": ["Daten"], "range": ["circle"]},
   "legend": {"orient": "none", "legendX": 11.85, "legendY": 43.05, "title": null, "padding": 0, "symbolType": "circle", "symbolSize": 35, "symbolStrokeWidth": 0, "symbolFillColor": "#000000", "symbolOpacity": 0.5, "labelOffset": 15.35}}}},
{"data": {"name": "p1"}, "mark": {"type": "point", "opacity": 0},
 "encoding": {"x": {"field": "x", "type": "quantitative", "scale": {"domain": [31.51, 41.5], "nice": false, "zero": false}, "axis": {"orient": "top", "values": [32,33,34,35,36,37,38,39,40,41], "labels": false, "title": null}}, "y": {"field": "y", "type": "quantitative", "scale": {"domain": [0.2, 1.5], "nice": false, "zero": false}, "axis": {"orient": "right", "values": [0.2,0.4,0.6,0.8,1.0,1.2,1.4], "labels": false, "title": null}}}}
],
"resolve": {"axis": {"x": "independent", "y": "independent"}}
},
{
"width": 268, "height": 262,
"layer": [
{"data": {"name": "b2"}, "mark": {"type": "area", "opacity": 1},
 "encoding": {
  "x": {"field": "x", "type": "quantitative", "scale": {"domain": [31.45, 41.5], "nice": false, "zero": false}, "axis": {"values": [32,33,34,35,36,37,38,39,40,41], "title": "Gestationsalter [Wochen]"}},
  "y": {"field": "lo", "type": "quantitative", "scale": {"domain": [0.2, 1.5], "nice": false, "zero": false}, "axis": {"values": [0.2,0.4,0.6,0.8,1.0,1.2,1.4], "format": ".1f", "title": null}},
  "y2": {"field": "hi"},
  "fill": {"datum": "5. - 95. Perzentile", "type": "nominal", "scale": {"domain": ["5. - 95. Perzentile"], "range": ["#FBA864"]},
   "legend": {"orient": "none", "legendX": 9, "legendY": 22.8, "title": null, "padding": 0, "symbolType": "M-1.45,-0.47H1.45V0.47H-1.45Z", "symbolSize": 289, "symbolStrokeWidth": 0, "symbolFillColor": "#FBA864", "symbolOpacity": 1, "labelOffset": 12.5}}
 }},
{"data": {"name": "b2"}, "mark": {"type": "line", "color": "#000000", "strokeWidth": 1.2, "strokeDash": [1.2, 1.6]},
 "encoding": {"x": {"field": "x", "type": "quantitative", "scale": {"domain": [31.45, 41.5], "nice": false, "zero": false}, "axis": null}, "y": {"field": "lo", "type": "quantitative", "scale": {"domain": [0.2, 1.5], "nice": false, "zero": false}, "axis": null}}},
{"data": {"name": "b2"}, "mark": {"type": "line", "color": "#000000", "strokeWidth": 1.2, "strokeDash": [1.2, 1.6]},
 "encoding": {"x": {"field": "x", "type": "quantitative", "scale": {"domain": [31.45, 41.5], "nice": false, "zero": false}, "axis": null}, "y": {"field": "hi", "type": "quantitative", "scale": {"domain": [0.2, 1.5], "nice": false, "zero": false}, "axis": null}}},
{"data": {"name": "b2"}, "mark": {"type": "line", "strokeWidth": 1.3},
 "encoding": {"x": {"field": "x", "type": "quantitative", "scale": {"domain": [31.45, 41.5], "nice": false, "zero": false}, "axis": null}, "y": {"field": "mid", "type": "quantitative", "scale": {"domain": [0.2, 1.5], "nice": false, "zero": false}, "axis": null},
  "stroke": {"datum": "SGA", "type": "nominal", "scale": {"domain": ["SGA"], "range": ["#FF5A0F"]},
   "legend": {"orient": "none", "legendX": 8, "legendY": 4.8, "title": null, "padding": 0, "symbolType": "M-1.45,0H1.45", "symbolSize": 289, "symbolStrokeWidth": 1.5, "symbolStrokeColor": "#FF5A0F", "labelOffset": 11.5}}}},
{"data": {"name": "p2"}, "mark": {"type": "point", "filled": true, "size": 35, "opacity": 0.5, "color": "black", "strokeWidth": 0},
 "encoding": {"x": {"field": "x", "type": "quantitative", "scale": {"domain": [31.45, 41.5], "nice": false, "zero": false}, "axis": null}, "y": {"field": "y", "type": "quantitative", "scale": {"domain": [0.2, 1.5], "nice": false, "zero": false}, "axis": null},
  "shape": {"datum": "Daten", "type": "nominal", "scale": {"domain": ["Daten"], "range": ["circle"]},
   "legend": {"orient": "none", "legendX": 11.85, "legendY": 43.05, "title": null, "padding": 0, "symbolType": "circle", "symbolSize": 35, "symbolStrokeWidth": 0, "symbolFillColor": "#000000", "symbolOpacity": 0.5, "labelOffset": 15.35}}}},
{"data": {"name": "p2"}, "mark": {"type": "point", "opacity": 0},
 "encoding": {"x": {"field": "x", "type": "quantitative", "scale": {"domain": [31.45, 41.5], "nice": false, "zero": false}, "axis": {"orient": "top", "values": [32,33,34,35,36,37,38,39,40,41], "labels": false, "title": null}}, "y": {"field": "y", "type": "quantitative", "scale": {"domain": [0.2, 1.5], "nice": false, "zero": false}, "axis": {"orient": "right", "values": [0.2,0.4,0.6,0.8,1.0,1.2,1.4], "labels": false, "title": null}}}}
],
"resolve": {"axis": {"x": "independent", "y": "independent"}}
}
],
"spacing": 8,
"title": {"text": "(a) Trikuspidalklappe − E/A", "orient": "bottom", "anchor": "middle", "font": "DejaVu Serif", "fontStyle": "italic", "fontSize": 26, "fontWeight": "normal", "color": "black", "offset": 29},
"resolve": {"scale": {"fill": "independent", "stroke": "independent", "shape": "independent"}, "legend": {"fill": "independent", "stroke": "independent", "shape": "independent"}}
},
{
"hconcat": [
{
"width": 267, "height": 262,
"layer": [
{"data": {"name": "b3"}, "mark": {"type": "area", "opacity": 1},
 "encoding": {
  "x": {"field": "x", "type": "quantitative", "scale": {"domain": [31.54, 41.5], "nice": false, "zero": false}, "axis": {"values": [32,33,34,35,36,37,38,39,40,41], "title": "Gestationsalter [Wochen]"}},
  "y": {"field": "lo", "type": "quantitative", "scale": {"domain": [0.2, 1.5], "nice": false, "zero": false}, "axis": {"values": [0.2,0.4,0.6,0.8,1.0,1.2,1.4], "format": ".1f", "title": "Mitralklappe E/A"}},
  "y2": {"field": "hi"},
  "fill": {"datum": "5. - 95. Perzentile", "type": "nominal", "scale": {"domain": ["5. - 95. Perzentile"], "range": ["#ADD8E6"]},
   "legend": {"orient": "none", "legendX": 9, "legendY": 22.8, "title": null, "padding": 0, "symbolType": "M-1.45,-0.47H1.45V0.47H-1.45Z", "symbolSize": 289, "symbolStrokeWidth": 0, "symbolFillColor": "#ADD8E6", "symbolOpacity": 1, "labelOffset": 12.5}}
 }},
{"data": {"name": "b3"}, "mark": {"type": "line", "color": "#1f3fd8", "strokeWidth": 1.2, "strokeDash": [1.2, 1.6]},
 "encoding": {"x": {"field": "x", "type": "quantitative", "scale": {"domain": [31.54, 41.5], "nice": false, "zero": false}, "axis": null}, "y": {"field": "lo", "type": "quantitative", "scale": {"domain": [0.2, 1.5], "nice": false, "zero": false}, "axis": null}}},
{"data": {"name": "b3"}, "mark": {"type": "line", "color": "#1f3fd8", "strokeWidth": 1.2, "strokeDash": [1.2, 1.6]},
 "encoding": {"x": {"field": "x", "type": "quantitative", "scale": {"domain": [31.54, 41.5], "nice": false, "zero": false}, "axis": null}, "y": {"field": "hi", "type": "quantitative", "scale": {"domain": [0.2, 1.5], "nice": false, "zero": false}, "axis": null}}},
{"data": {"name": "b3"}, "mark": {"type": "line", "strokeWidth": 1.5},
 "encoding": {"x": {"field": "x", "type": "quantitative", "scale": {"domain": [31.54, 41.5], "nice": false, "zero": false}, "axis": null}, "y": {"field": "mid", "type": "quantitative", "scale": {"domain": [0.2, 1.5], "nice": false, "zero": false}, "axis": null},
  "stroke": {"datum": "Kontrolle", "type": "nominal", "scale": {"domain": ["Kontrolle"], "range": ["#00008B"]},
   "legend": {"orient": "none", "legendX": 8, "legendY": 4.8, "title": null, "padding": 0, "symbolType": "M-1.45,0H1.45", "symbolSize": 289, "symbolStrokeWidth": 1.5, "symbolStrokeColor": "#00008B", "labelOffset": 11.5}}}},
{"data": {"name": "p3"}, "mark": {"type": "point", "filled": true, "size": 35, "opacity": 0.5, "color": "black", "strokeWidth": 0},
 "encoding": {"x": {"field": "x", "type": "quantitative", "scale": {"domain": [31.54, 41.5], "nice": false, "zero": false}, "axis": null}, "y": {"field": "y", "type": "quantitative", "scale": {"domain": [0.2, 1.5], "nice": false, "zero": false}, "axis": null},
  "shape": {"datum": "Daten", "type": "nominal", "scale": {"domain": ["Daten"], "range": ["circle"]},
   "legend": {"orient": "none", "legendX": 11.85, "legendY": 43.05, "title": null, "padding": 0, "symbolType": "circle", "symbolSize": 35, "symbolStrokeWidth": 0, "symbolFillColor": "#000000", "symbolOpacity": 0.5, "labelOffset": 15.35}}}},
{"data": {"name": "p3"}, "mark": {"type": "point", "opacity": 0},
 "encoding": {"x": {"field": "x", "type": "quantitative", "scale": {"domain": [31.54, 41.5], "nice": false, "zero": false}, "axis": {"orient": "top", "values": [32,33,34,35,36,37,38,39,40,41], "labels": false, "title": null}}, "y": {"field": "y", "type": "quantitative", "scale": {"domain": [0.2, 1.5], "nice": false, "zero": false}, "axis": {"orient": "right", "values": [0.2,0.4,0.6,0.8,1.0,1.2,1.4], "labels": false, "title": null}}}}
],
"resolve": {"axis": {"x": "independent", "y": "independent"}}
},
{
"width": 268, "height": 262,
"layer": [
{"data": {"name": "b4"}, "mark": {"type": "area", "opacity": 1},
 "encoding": {
  "x": {"field": "x", "type": "quantitative", "scale": {"domain": [31.45, 41.5], "nice": false, "zero": false}, "axis": {"values": [32,33,34,35,36,37,38,39,40,41], "title": "Gestationsalter [Wochen]"}},
  "y": {"field": "lo", "type": "quantitative", "scale": {"domain": [0.2, 1.5], "nice": false, "zero": false}, "axis": {"values": [0.2,0.4,0.6,0.8,1.0,1.2,1.4], "format": ".1f", "title": null}},
  "y2": {"field": "hi"},
  "fill": {"datum": "5. - 95. Perzentile", "type": "nominal", "scale": {"domain": ["5. - 95. Perzentile"], "range": ["#FBA864"]},
   "legend": {"orient": "none", "legendX": 9, "legendY": 22.8, "title": null, "padding": 0, "symbolType": "M-1.45,-0.47H1.45V0.47H-1.45Z", "symbolSize": 289, "symbolStrokeWidth": 0, "symbolFillColor": "#FBA864", "symbolOpacity": 1, "labelOffset": 12.5}}
 }},
{"data": {"name": "b4"}, "mark": {"type": "line", "color": "#000000", "strokeWidth": 1.2, "strokeDash": [1.2, 1.6]},
 "encoding": {"x": {"field": "x", "type": "quantitative", "scale": {"domain": [31.45, 41.5], "nice": false, "zero": false}, "axis": null}, "y": {"field": "lo", "type": "quantitative", "scale": {"domain": [0.2, 1.5], "nice": false, "zero": false}, "axis": null}}},
{"data": {"name": "b4"}, "mark": {"type": "line", "color": "#000000", "strokeWidth": 1.2, "strokeDash": [1.2, 1.6]},
 "encoding": {"x": {"field": "x", "type": "quantitative", "scale": {"domain": [31.45, 41.5], "nice": false, "zero": false}, "axis": null}, "y": {"field": "hi", "type": "quantitative", "scale": {"domain": [0.2, 1.5], "nice": false, "zero": false}, "axis": null}}},
{"data": {"name": "b4"}, "mark": {"type": "line", "strokeWidth": 1.3},
 "encoding": {"x": {"field": "x", "type": "quantitative", "scale": {"domain": [31.45, 41.5], "nice": false, "zero": false}, "axis": null}, "y": {"field": "mid", "type": "quantitative", "scale": {"domain": [0.2, 1.5], "nice": false, "zero": false}, "axis": null},
  "stroke": {"datum": "SGA", "type": "nominal", "scale": {"domain": ["SGA"], "range": ["#FF5A0F"]},
   "legend": {"orient": "none", "legendX": 8, "legendY": 4.8, "title": null, "padding": 0, "symbolType": "M-1.45,0H1.45", "symbolSize": 289, "symbolStrokeWidth": 1.5, "symbolStrokeColor": "#FF5A0F", "labelOffset": 11.5}}}},
{"data": {"name": "p4"}, "mark": {"type": "point", "filled": true, "size": 35, "opacity": 0.5, "color": "black", "strokeWidth": 0},
 "encoding": {"x": {"field": "x", "type": "quantitative", "scale": {"domain": [31.45, 41.5], "nice": false, "zero": false}, "axis": null}, "y": {"field": "y", "type": "quantitative", "scale": {"domain": [0.2, 1.5], "nice": false, "zero": false}, "axis": null},
  "shape": {"datum": "Daten", "type": "nominal", "scale": {"domain": ["Daten"], "range": ["circle"]},
   "legend": {"orient": "none", "legendX": 11.85, "legendY": 43.05, "title": null, "padding": 0, "symbolType": "circle", "symbolSize": 35, "symbolStrokeWidth": 0, "symbolFillColor": "#000000", "symbolOpacity": 0.5, "labelOffset": 15.35}}}},
{"data": {"name": "p4"}, "mark": {"type": "point", "opacity": 0},
 "encoding": {"x": {"field": "x", "type": "quantitative", "scale": {"domain": [31.45, 41.5], "nice": false, "zero": false}, "axis": {"orient": "top", "values": [32,33,34,35,36,37,38,39,40,41], "labels": false, "title": null}}, "y": {"field": "y", "type": "quantitative", "scale": {"domain": [0.2, 1.5], "nice": false, "zero": false}, "axis": {"orient": "right", "values": [0.2,0.4,0.6,0.8,1.0,1.2,1.4], "labels": false, "title": null}}}}
],
"resolve": {"axis": {"x": "independent", "y": "independent"}}
}
],
"spacing": 8,
"title": {"text": "(b) Mitralklappe − E/A", "orient": "bottom", "anchor": "middle", "font": "DejaVu Serif", "fontStyle": "italic", "fontSize": 26, "fontWeight": "normal", "color": "black", "offset": 29},
"resolve": {"scale": {"fill": "independent", "stroke": "independent", "shape": "independent"}, "legend": {"fill": "independent", "stroke": "independent", "shape": "independent"}}
}
],
"spacing": 21,
"resolve": {"scale": {"fill": "independent", "stroke": "independent", "shape": "independent"}, "legend": {"fill": "independent", "stroke": "independent", "shape": "independent"}}
},
{
"hconcat": [
{
"hconcat": [
{
"width": 264, "height": 259,
"layer": [
{"data": {"name": "b5"}, "mark": {"type": "area", "opacity": 1},
 "encoding": {
  "x": {"field": "x", "type": "quantitative", "scale": {"domain": [31.5, 41.5], "nice": false, "zero": false}, "axis": {"values": [32,33,34,35,36,37,38,39,40,41], "title": "Gestationsalter [Wochen]"}},
  "y": {"field": "lo", "type": "quantitative", "scale": {"domain": [200, 800], "nice": false, "zero": false}, "axis": {"values": [200,300,400,500,600,700,800], "format": "d", "title": "Gesamtes HZV [l/min/m^2]"}},
  "y2": {"field": "hi"},
  "fill": {"datum": "5. - 95. Perzentile", "type": "nominal", "scale": {"domain": ["5. - 95. Perzentile"], "range": ["#ADD8E6"]},
   "legend": {"orient": "none", "legendX": 9, "legendY": 24.5, "title": null, "padding": 0, "symbolType": "M-1.45,-0.47H1.45V0.47H-1.45Z", "symbolSize": 289, "symbolStrokeWidth": 0, "symbolFillColor": "#ADD8E6", "symbolOpacity": 1, "labelOffset": 12.5}}
 }},
{"data": {"name": "b5"}, "mark": {"type": "line", "color": "#1f3fd8", "strokeWidth": 1.2, "strokeDash": [1.2, 1.6]},
 "encoding": {"x": {"field": "x", "type": "quantitative", "scale": {"domain": [31.5, 41.5], "nice": false, "zero": false}, "axis": null}, "y": {"field": "lo", "type": "quantitative", "scale": {"domain": [200, 800], "nice": false, "zero": false}, "axis": null}}},
{"data": {"name": "b5"}, "mark": {"type": "line", "color": "#1f3fd8", "strokeWidth": 1.2, "strokeDash": [1.2, 1.6]},
 "encoding": {"x": {"field": "x", "type": "quantitative", "scale": {"domain": [31.5, 41.5], "nice": false, "zero": false}, "axis": null}, "y": {"field": "hi", "type": "quantitative", "scale": {"domain": [200, 800], "nice": false, "zero": false}, "axis": null}}},
{"data": {"name": "b5"}, "mark": {"type": "line", "strokeWidth": 1.5},
 "encoding": {"x": {"field": "x", "type": "quantitative", "scale": {"domain": [31.5, 41.5], "nice": false, "zero": false}, "axis": null}, "y": {"field": "mid", "type": "quantitative", "scale": {"domain": [200, 800], "nice": false, "zero": false}, "axis": null},
  "stroke": {"datum": "Kontrolle", "type": "nominal", "scale": {"domain": ["Kontrolle"], "range": ["#00008B"]},
   "legend": {"orient": "none", "legendX": 8, "legendY": 6.8, "title": null, "padding": 0, "symbolType": "M-1.45,0H1.45", "symbolSize": 289, "symbolStrokeWidth": 1.5, "symbolStrokeColor": "#00008B", "labelOffset": 11.5}}}},
{"data": {"name": "p5"}, "mark": {"type": "point", "filled": true, "size": 35, "opacity": 0.5, "color": "black", "strokeWidth": 0},
 "encoding": {"x": {"field": "x", "type": "quantitative", "scale": {"domain": [31.5, 41.5], "nice": false, "zero": false}, "axis": null}, "y": {"field": "y", "type": "quantitative", "scale": {"domain": [200, 800], "nice": false, "zero": false}, "axis": null},
  "shape": {"datum": "Daten", "type": "nominal", "scale": {"domain": ["Daten"], "range": ["circle"]},
   "legend": {"orient": "none", "legendX": 11.85, "legendY": 44.05, "title": null, "padding": 0, "symbolType": "circle", "symbolSize": 35, "symbolStrokeWidth": 0, "symbolFillColor": "#000000", "symbolOpacity": 0.5, "labelOffset": 15.35}}}},
{"data": {"name": "p5"}, "mark": {"type": "point", "opacity": 0},
 "encoding": {"x": {"field": "x", "type": "quantitative", "scale": {"domain": [31.5, 41.5], "nice": false, "zero": false}, "axis": {"orient": "top", "values": [32,33,34,35,36,37,38,39,40,41], "labels": false, "title": null}}, "y": {"field": "y", "type": "quantitative", "scale": {"domain": [200, 800], "nice": false, "zero": false}, "axis": {"orient": "right", "values": [200,300,400,500,600,700,800], "labels": false, "title": null}}}}
],
"resolve": {"axis": {"x": "independent", "y": "independent"}}
},
{
"width": 264, "height": 259,
"layer": [
{"data": {"name": "b6"}, "mark": {"type": "area", "opacity": 1},
 "encoding": {
  "x": {"field": "x", "type": "quantitative", "scale": {"domain": [31.52, 41.5], "nice": false, "zero": false}, "axis": {"values": [32,33,34,35,36,37,38,39,40,41], "title": "Gestationsalter [Wochen]"}},
  "y": {"field": "lo", "type": "quantitative", "scale": {"domain": [200, 800], "nice": false, "zero": false}, "axis": {"values": [200,300,400,500,600,700,800], "format": "d", "title": null}},
  "y2": {"field": "hi"},
  "fill": {"datum": "5. - 95. Perzentile", "type": "nominal", "scale": {"domain": ["5. - 95. Perzentile"], "range": ["#FBA864"]},
   "legend": {"orient": "none", "legendX": 9, "legendY": 24.5, "title": null, "padding": 0, "symbolType": "M-1.45,-0.47H1.45V0.47H-1.45Z", "symbolSize": 289, "symbolStrokeWidth": 0, "symbolFillColor": "#FBA864", "symbolOpacity": 1, "labelOffset": 12.5}}
 }},
{"data": {"name": "b6"}, "mark": {"type": "line", "color": "#000000", "strokeWidth": 1.2, "strokeDash": [1.2, 1.6]},
 "encoding": {"x": {"field": "x", "type": "quantitative", "scale": {"domain": [31.52, 41.5], "nice": false, "zero": false}, "axis": null}, "y": {"field": "lo", "type": "quantitative", "scale": {"domain": [200, 800], "nice": false, "zero": false}, "axis": null}}},
{"data": {"name": "b6"}, "mark": {"type": "line", "color": "#000000", "strokeWidth": 1.2, "strokeDash": [1.2, 1.6]},
 "encoding": {"x": {"field": "x", "type": "quantitative", "scale": {"domain": [31.52, 41.5], "nice": false, "zero": false}, "axis": null}, "y": {"field": "hi", "type": "quantitative", "scale": {"domain": [200, 800], "nice": false, "zero": false}, "axis": null}}},
{"data": {"name": "b6"}, "mark": {"type": "line", "strokeWidth": 1.3},
 "encoding": {"x": {"field": "x", "type": "quantitative", "scale": {"domain": [31.52, 41.5], "nice": false, "zero": false}, "axis": null}, "y": {"field": "mid", "type": "quantitative", "scale": {"domain": [200, 800], "nice": false, "zero": false}, "axis": null},
  "stroke": {"datum": "SGA", "type": "nominal", "scale": {"domain": ["SGA"], "range": ["#FF5A0F"]},
   "legend": {"orient": "none", "legendX": 8, "legendY": 6.8, "title": null, "padding": 0, "symbolType": "M-1.45,0H1.45", "symbolSize": 289, "symbolStrokeWidth": 1.5, "symbolStrokeColor": "#FF5A0F", "labelOffset": 11.5}}}},
{"data": {"name": "p6"}, "mark": {"type": "point", "filled": true, "size": 35, "opacity": 0.5, "color": "black", "strokeWidth": 0},
 "encoding": {"x": {"field": "x", "type": "quantitative", "scale": {"domain": [31.52, 41.5], "nice": false, "zero": false}, "axis": null}, "y": {"field": "y", "type": "quantitative", "scale": {"domain": [200, 800], "nice": false, "zero": false}, "axis": null},
  "shape": {"datum": "Daten", "type": "nominal", "scale": {"domain": ["Daten"], "range": ["circle"]},
   "legend": {"orient": "none", "legendX": 11.85, "legendY": 44.05, "title": null, "padding": 0, "symbolType": "circle", "symbolSize": 35, "symbolStrokeWidth": 0, "symbolFillColor": "#000000", "symbolOpacity": 0.5, "labelOffset": 15.35}}}},
{"data": {"name": "p6"}, "mark": {"type": "point", "opacity": 0},
 "encoding": {"x": {"field": "x", "type": "quantitative", "scale": {"domain": [31.52, 41.5], "nice": false, "zero": false}, "axis": {"orient": "top", "values": [32,33,34,35,36,37,38,39,40,41], "labels": false, "title": null}}, "y": {"field": "y", "type": "quantitative", "scale": {"domain": [200, 800], "nice": false, "zero": false}, "axis": {"orient": "right", "values": [200,300,400,500,600,700,800], "labels": false, "title": null}}}}
],
"resolve": {"axis": {"x": "independent", "y": "independent"}}
}
],
"spacing": 8,
"title": {"text": "(c) gemeinsames HZV", "orient": "bottom", "anchor": "middle", "font": "DejaVu Serif", "fontStyle": "italic", "fontSize": 26, "fontWeight": "normal", "color": "black", "offset": 29},
"resolve": {"scale": {"fill": "independent", "stroke": "independent", "shape": "independent"}, "legend": {"fill": "independent", "stroke": "independent", "shape": "independent"}}
},
{
"hconcat": [
{
"width": 267, "height": 259,
"layer": [
{"data": {"name": "b7"}, "mark": {"type": "area", "opacity": 1},
 "encoding": {
  "x": {"field": "x", "type": "quantitative", "scale": {"domain": [31.54, 41.5], "nice": false, "zero": false}, "axis": {"values": [32,33,34,35,36,37,38,39,40,41], "title": "Gestationsalter [Wochen]"}},
  "y": {"field": "lo", "type": "quantitative", "scale": {"domain": [0, 1], "nice": false, "zero": false}, "axis": {"values": [0,0.2,0.4,0.6,0.8,1.0], "format": ".1f", "title": "MPI"}},
  "y2": {"field": "hi"},
  "fill": {"datum": "5. - 95. Perzentile", "type": "nominal", "scale": {"domain": ["5. - 95. Perzentile"], "range": ["#ADD8E6"]},
   "legend": {"orient": "none", "legendX": 9, "legendY": 24.5, "title": null, "padding": 0, "symbolType": "M-1.45,-0.47H1.45V0.47H-1.45Z", "symbolSize": 289, "symbolStrokeWidth": 0, "symbolFillColor": "#ADD8E6", "symbolOpacity": 1, "labelOffset": 12.5}}
 }},
{"data": {"name": "b7"}, "mark": {"type": "line", "color": "#1f3fd8", "strokeWidth": 1.2, "strokeDash": [1.2, 1.6]},
 "encoding": {"x": {"field": "x", "type": "quantitative", "scale": {"domain": [31.54, 41.5], "nice": false, "zero": false}, "axis": null}, "y": {"field": "lo", "type": "quantitative", "scale": {"domain": [0, 1], "nice": false, "zero": false}, "axis": null}}},
{"data": {"name": "b7"}, "mark": {"type": "line", "color": "#1f3fd8", "strokeWidth": 1.2, "strokeDash": [1.2, 1.6]},
 "encoding": {"x": {"field": "x", "type": "quantitative", "scale": {"domain": [31.54, 41.5], "nice": false, "zero": false}, "axis": null}, "y": {"field": "hi", "type": "quantitative", "scale": {"domain": [0, 1], "nice": false, "zero": false}, "axis": null}}},
{"data": {"name": "b7"}, "mark": {"type": "line", "strokeWidth": 1.5},
 "encoding": {"x": {"field": "x", "type": "quantitative", "scale": {"domain": [31.54, 41.5], "nice": false, "zero": false}, "axis": null}, "y": {"field": "mid", "type": "quantitative", "scale": {"domain": [0, 1], "nice": false, "zero": false}, "axis": null},
  "stroke": {"datum": "Kontrolle", "type": "nominal", "scale": {"domain": ["Kontrolle"], "range": ["#00008B"]},
   "legend": {"orient": "none", "legendX": 8, "legendY": 6.8, "title": null, "padding": 0, "symbolType": "M-1.45,0H1.45", "symbolSize": 289, "symbolStrokeWidth": 1.5, "symbolStrokeColor": "#00008B", "labelOffset": 11.5}}}},
{"data": {"name": "p7"}, "mark": {"type": "point", "filled": true, "size": 35, "opacity": 0.5, "color": "black", "strokeWidth": 0},
 "encoding": {"x": {"field": "x", "type": "quantitative", "scale": {"domain": [31.54, 41.5], "nice": false, "zero": false}, "axis": null}, "y": {"field": "y", "type": "quantitative", "scale": {"domain": [0, 1], "nice": false, "zero": false}, "axis": null},
  "shape": {"datum": "Daten", "type": "nominal", "scale": {"domain": ["Daten"], "range": ["circle"]},
   "legend": {"orient": "none", "legendX": 11.85, "legendY": 44.05, "title": null, "padding": 0, "symbolType": "circle", "symbolSize": 35, "symbolStrokeWidth": 0, "symbolFillColor": "#000000", "symbolOpacity": 0.5, "labelOffset": 15.35}}}},
{"data": {"name": "p7"}, "mark": {"type": "point", "opacity": 0},
 "encoding": {"x": {"field": "x", "type": "quantitative", "scale": {"domain": [31.54, 41.5], "nice": false, "zero": false}, "axis": {"orient": "top", "values": [32,33,34,35,36,37,38,39,40,41], "labels": false, "title": null}}, "y": {"field": "y", "type": "quantitative", "scale": {"domain": [0, 1], "nice": false, "zero": false}, "axis": {"orient": "right", "values": [0,0.2,0.4,0.6,0.8,1.0], "labels": false, "title": null}}}}
],
"resolve": {"axis": {"x": "independent", "y": "independent"}}
},
{
"width": 268, "height": 259,
"layer": [
{"data": {"name": "b8"}, "mark": {"type": "area", "opacity": 1},
 "encoding": {
  "x": {"field": "x", "type": "quantitative", "scale": {"domain": [31.46, 41.5], "nice": false, "zero": false}, "axis": {"values": [32,33,34,35,36,37,38,39,40,41], "title": "Gestationsalter [Wochen]"}},
  "y": {"field": "lo", "type": "quantitative", "scale": {"domain": [0, 1], "nice": false, "zero": false}, "axis": {"values": [0,0.2,0.4,0.6,0.8,1.0], "format": ".1f", "title": null}},
  "y2": {"field": "hi"},
  "fill": {"datum": "5. - 95. Perzentile", "type": "nominal", "scale": {"domain": ["5. - 95. Perzentile"], "range": ["#FBA864"]},
   "legend": {"orient": "none", "legendX": 9, "legendY": 24.5, "title": null, "padding": 0, "symbolType": "M-1.45,-0.47H1.45V0.47H-1.45Z", "symbolSize": 289, "symbolStrokeWidth": 0, "symbolFillColor": "#FBA864", "symbolOpacity": 1, "labelOffset": 12.5}}
 }},
{"data": {"name": "b8"}, "mark": {"type": "line", "color": "#000000", "strokeWidth": 1.2, "strokeDash": [1.2, 1.6]},
 "encoding": {"x": {"field": "x", "type": "quantitative", "scale": {"domain": [31.46, 41.5], "nice": false, "zero": false}, "axis": null}, "y": {"field": "lo", "type": "quantitative", "scale": {"domain": [0, 1], "nice": false, "zero": false}, "axis": null}}},
{"data": {"name": "b8"}, "mark": {"type": "line", "color": "#000000", "strokeWidth": 1.2, "strokeDash": [1.2, 1.6]},
 "encoding": {"x": {"field": "x", "type": "quantitative", "scale": {"domain": [31.46, 41.5], "nice": false, "zero": false}, "axis": null}, "y": {"field": "hi", "type": "quantitative", "scale": {"domain": [0, 1], "nice": false, "zero": false}, "axis": null}}},
{"data": {"name": "b8"}, "mark": {"type": "line", "strokeWidth": 1.3},
 "encoding": {"x": {"field": "x", "type": "quantitative", "scale": {"domain": [31.46, 41.5], "nice": false, "zero": false}, "axis": null}, "y": {"field": "mid", "type": "quantitative", "scale": {"domain": [0, 1], "nice": false, "zero": false}, "axis": null},
  "stroke": {"datum": "SGA", "type": "nominal", "scale": {"domain": ["SGA"], "range": ["#FF5A0F"]},
   "legend": {"orient": "none", "legendX": 8, "legendY": 6.8, "title": null, "padding": 0, "symbolType": "M-1.45,0H1.45", "symbolSize": 289, "symbolStrokeWidth": 1.5, "symbolStrokeColor": "#FF5A0F", "labelOffset": 11.5}}}},
{"data": {"name": "p8"}, "mark": {"type": "point", "filled": true, "size": 35, "opacity": 0.5, "color": "black", "strokeWidth": 0},
 "encoding": {"x": {"field": "x", "type": "quantitative", "scale": {"domain": [31.46, 41.5], "nice": false, "zero": false}, "axis": null}, "y": {"field": "y", "type": "quantitative", "scale": {"domain": [0, 1], "nice": false, "zero": false}, "axis": null},
  "shape": {"datum": "Daten", "type": "nominal", "scale": {"domain": ["Daten"], "range": ["circle"]},
   "legend": {"orient": "none", "legendX": 11.85, "legendY": 44.05, "title": null, "padding": 0, "symbolType": "circle", "symbolSize": 35, "symbolStrokeWidth": 0, "symbolFillColor": "#000000", "symbolOpacity": 0.5, "labelOffset": 15.35}}}},
{"data": {"name": "p8"}, "mark": {"type": "point", "opacity": 0},
 "encoding": {"x": {"field": "x", "type": "quantitative", "scale": {"domain": [31.46, 41.5], "nice": false, "zero": false}, "axis": {"orient": "top", "values": [32,33,34,35,36,37,38,39,40,41], "labels": false, "title": null}}, "y": {"field": "y", "type": "quantitative", "scale": {"domain": [0, 1], "nice": false, "zero": false}, "axis": {"orient": "right", "values": [0,0.2,0.4,0.6,0.8,1.0], "labels": false, "title": null}}}}
],
"resolve": {"axis": {"x": "independent", "y": "independent"}}
}
],
"spacing": 8,
"title": {"text": "(d) MPI", "orient": "bottom", "anchor": "middle", "font": "DejaVu Serif", "fontStyle": "italic", "fontSize": 26, "fontWeight": "normal", "color": "black", "offset": 29},
"resolve": {"scale": {"fill": "independent", "stroke": "independent", "shape": "independent"}, "legend": {"fill": "independent", "stroke": "independent", "shape": "independent"}}
}
],
"spacing": 21,
"resolve": {"scale": {"fill": "independent", "stroke": "independent", "shape": "independent"}, "legend": {"fill": "independent", "stroke": "independent", "shape": "independent"}}
}
],
"spacing": 13,
"resolve": {"scale": {"fill": "independent", "stroke": "independent", "shape": "independent"}, "legend": {"fill": "independent", "stroke": "independent", "shape": "independent"}},
"config": {
 "view": {"stroke": "black", "strokeWidth": 1},
 "axis": {"domain": false, "grid": false, "ticks": true, "tickColor": "black", "tickSize": -3.5, "tickWidth": 0.9, "labelFont": "DejaVu Sans", "labelFontSize": 10, "labelColor": "black", "labelPadding": 6.5, "labelFlush": false, "labelOverlap": false, "labelBound": false, "titleFont": "DejaVu Serif", "titleFontSize": 11.5, "titleFontWeight": "normal", "titleColor": "black"},
 "axisX": {"titlePadding": 2},
 "axisY": {"titlePadding": 3},
 "legend": {"padding": 0, "labelFont": "DejaVu Sans", "labelFontSize": 11.3, "labelColor": "black", "labelLimit": 300}
}
}
